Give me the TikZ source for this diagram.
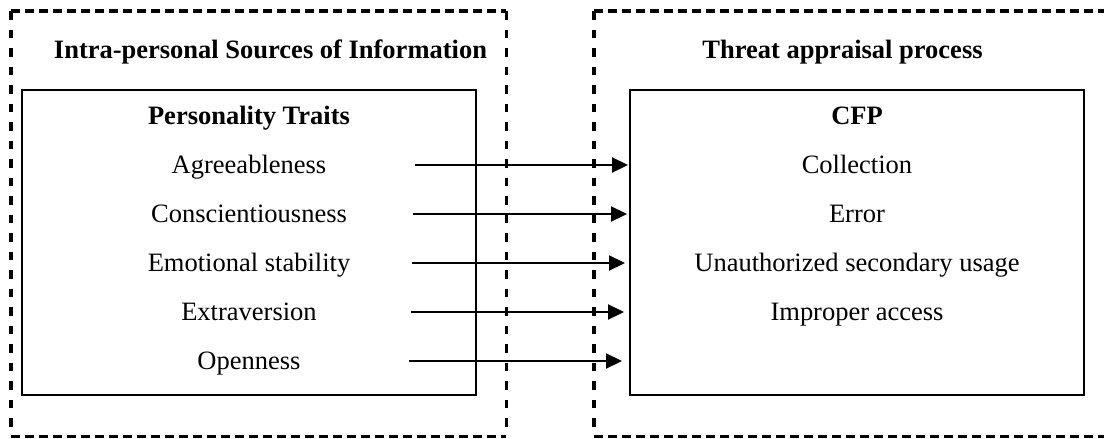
\documentclass[tikz,border=0pt]{standalone}
\usepackage{fontspec}
\setmainfont{Liberation Serif}
\usetikzlibrary{arrows.meta}
\begin{document}
\begin{tikzpicture}[x=1pt,y=-1pt,
  groupbox/.style={rectangle, inner sep=0pt, anchor=north west},
  hdash/.style={line width=3.1pt, dash pattern=on 9pt off 5pt},
  vdash/.style={line width=3.1pt, dash pattern=on 8.5pt off 10pt},
  innerbox/.style={draw, line width=2.2pt, rectangle, inner sep=0pt,
    minimum width=454pt, minimum height=305pt},
  lbl/.style={font=\fontsize{26.5}{30}\selectfont, anchor=base, inner sep=0pt},
  head/.style={font=\fontsize{26.5}{30}\selectfont\bfseries, anchor=base, inner sep=0pt},
  link/.style={line width=2.2pt, -{Triangle[length=16pt,width=15pt]}}]
\useasboundingbox (0,0) rectangle (1104,439);

% dashed group frames (the right one runs past the page edge)
\begin{scope}
  \clip (0,0) rectangle (1104,439);
  \node[groupbox, minimum width=495pt, minimum height=425pt] (src) at (11,11) {};
  \node[groupbox, minimum width=560pt, minimum height=425pt] (thr) at (594,11) {};
  \foreach \g in {src,thr} {
    \draw[hdash] (\g.north west) -- (\g.north east);
    \draw[hdash] (\g.south west) -- (\g.south east);
    \draw[vdash] (\g.north west) -- (\g.south west);
    \draw[vdash] (\g.north east) -- (\g.south east);
  }
\end{scope}

% solid inner boxes
\node[innerbox] (traits) at (249,242.5) {};
\node[innerbox] (cfp) at (857,242.5) {};

% headings
\node[head] (srcT) at (270.5,58) {Intra-personal Sources of Information};
\node[head] (thrT) at (842.5,58) {Threat appraisal process};
\node[head] (traitsT) at (249,124) {Personality Traits};
\node[head] (cfpT) at (857,124) {CFP};

% personality traits
\node[lbl] (t1) at (249,173.5) {Agreeableness};
\node[lbl] (t2) at (249,222.5) {Conscientiousness};
\node[lbl] (t3) at (249,271.5) {Emotional stability};
\node[lbl] (t4) at (249,320.5) {Extraversion};
\node[lbl] (t5) at (249,369.5) {Openness};

% CFP dimensions
\node[lbl] (c1) at (857,173.5) {Collection};
\node[lbl] (c2) at (857,222.5) {Error};
\node[lbl] (c3) at (857,271.5) {Unauthorized secondary usage};
\node[lbl] (c4) at (857,320.5) {Improper access};

% arrow end points
\coordinate (a1) at (415,165); \coordinate (b1) at (628,165);
\coordinate (a2) at (413,214); \coordinate (b2) at (627,214);
\coordinate (a3) at (412,263); \coordinate (b3) at (625,263);
\coordinate (a4) at (411,312); \coordinate (b4) at (624,312);
\coordinate (a5) at (409,361); \coordinate (b5) at (622,361);

\foreach \i in {1,...,5} \draw[link] (a\i) -- (b\i);
\end{tikzpicture}
\end{document}
